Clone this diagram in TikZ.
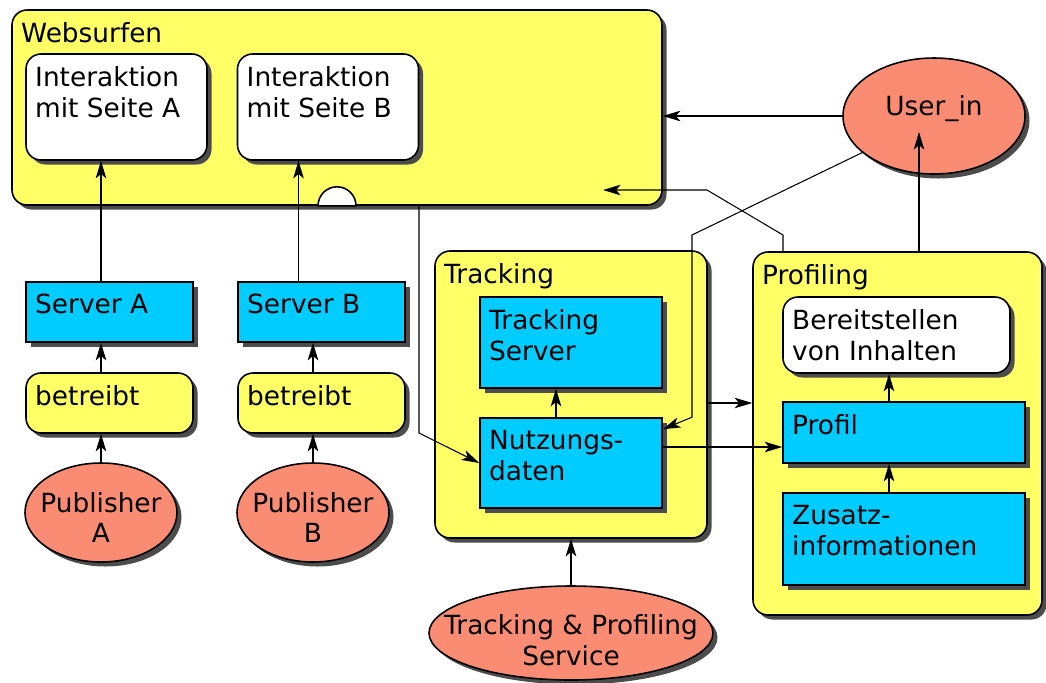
\documentclass[tikz,border=0pt]{standalone}
\usepackage{fontspec}
\setmainfont{DejaVu Sans}
\usetikzlibrary{positioning,shapes.geometric,shadows,arrows.meta}
\definecolor{gelb}{RGB}{255,255,102}
\definecolor{tuerkis}{RGB}{0,204,255}
\definecolor{lachs}{RGB}{250,140,115}
\tikzset{>={Stealth[length=10pt,width=6pt,inset=2.5pt]}}
\tikzset{
  schatten/.style={drop shadow={shadow xshift=0.09cm, shadow yshift=-0.09cm, fill=black!70, opacity=1}},
  gruppe/.style={draw, line width=0.9pt, rounded corners=0.3cm, fill=gelb, schatten},
  aktion/.style={draw, line width=0.9pt, rounded corners=0.3cm, fill=white, schatten},
  rechner/.style={draw, line width=0.9pt, fill=tuerkis, schatten},
  akteur/.style={draw, ellipse, line width=0.9pt, fill=lachs, inner sep=0pt, schatten},
  kopf/.style={label={[anchor=north west, inner xsep=0.19cm, inner ysep=0.25cm, align=left]north west:#1}},
  mitte/.style 2 args={label={[align=center, yshift=#1]center:#2}}
}

\begin{document}
\begin{tikzpicture}[font=\fontsize{15pt}{17.5pt}\selectfont, line width=0.6pt]
      \useasboundingbox (0,0) rectangle (20.92,-13.64);
      % Websurfen
      \node[gruppe, minimum width=13cm, minimum height=3.9cm, kopf=Websurfen] (web) at (6.74,-2.15) {};
      \node[aktion, minimum width=3.62cm, minimum height=2.12cm, kopf={Interaktion\\mit Seite A}] (ia) at (2.33,-2.14) {};
      \node[aktion, right of=ia, node distance=4.23cm, minimum width=3.62cm, minimum height=2.12cm, kopf={Interaktion\\mit Seite B}] (ib) {};
      \draw[line width=0.9pt, fill=white] ([xshift=-0.38cm]web.south) arc[start angle=180, end angle=0, radius=0.38cm] -- cycle;
      % Publisher
      \node[rechner, minimum width=3.34cm, minimum height=1.2cm, kopf={Server A}] (sa) at (2.19,-6.24) {};
      \node[rechner, right of=sa, node distance=4.24cm, minimum width=3.34cm, minimum height=1.2cm, kopf={Server B}] (sb) {};
      \node[gruppe, below of=sa, node distance=1.82cm, minimum width=3.34cm, minimum height=1.2cm, kopf=betreibt] (ba) {};
      \node[gruppe, below of=sb, node distance=1.82cm, minimum width=3.34cm, minimum height=1.2cm, kopf=betreibt] (bb) {};
      \node[akteur, minimum width=3.04cm, minimum height=1.98cm, mitte={-0.1cm}{Publisher\\A}] (pa) at (2.02,-10.25) {};
      \node[akteur, right of=pa, node distance=4.24cm, minimum width=3.04cm, minimum height=1.98cm, mitte={-0.1cm}{Publisher\\B}] (pb) {};
      % Tracking
      \node[gruppe, minimum width=5.44cm, minimum height=5.74cm, kopf=Tracking] (track) at (11.42,-7.89) {};
      \node[rechner, above of=track, node distance=1.04cm, minimum width=3.64cm, minimum height=1.82cm, kopf={Tracking\\Server}] (ts) {};
      \node[rechner, below of=ts, node distance=2.41cm, minimum width=3.64cm, minimum height=1.8cm, kopf={Nutzungs-\\daten}] (nd) {};
      \node[akteur, below of=track, node distance=4.77cm, minimum width=5.68cm, minimum height=1.88cm, mitte={-0.14cm}{Tracking \& Profiling\\Service}] (svc) {};
      % Profiling
      \node[gruppe, minimum width=5.78cm, minimum height=7.26cm, kopf=Profiling] (prof) at (17.95,-8.67) {};
      \node[aktion, minimum width=4.54cm, minimum height=1.52cm, kopf={Bereitstellen\\von Inhalten}] (bi) at (17.93,-6.70) {};
      \node[rechner, minimum width=4.84cm, minimum height=1.22cm, kopf=Profil] (pr) at (18.08,-8.65) {};
      \node[rechner, below of=pr, node distance=2.13cm, minimum width=4.84cm, minimum height=1.84cm, kopf={Zusatz-\\informationen}] (zi) {};
      \node[akteur, minimum width=3.64cm, minimum height=2.32cm, mitte={0.15cm}{User\_in}] (user) at (18.68,-2.32) {};
      % Verbindungen
      \draw[->] (pa.north) -- (pa.north |- ba.south);
      \draw[->] (pa.north |- ba.north) -- (pa.north |- sa.south);
      \draw[->] (pa.north |- sa.north) -- (pa.north |- ia.south);
      \draw[->] (pb.north) -- (pb.north |- bb.south);
      \draw[->] (pb.north |- bb.north) -- (pb.north |- sb.south);
      \draw[->] ([xshift=-0.46cm]sb.north) -- ([xshift=-0.46cm]sb.north |- ib.south);
      \draw[->] ([xshift=-0.3cm]nd.north) -- ([xshift=-0.3cm]ts.south);
      \draw[->] ([xshift=-0.3cm]zi.north) -- ([xshift=-0.3cm]pr.south);
      \draw[->] ([xshift=-0.3cm]pr.north) -- ([xshift=-0.3cm]pr.north |- bi.south);
      \draw[->] (track.south |- svc.north) -- (track.south);
      \coordinate (aux1) at (13.84,-4.70);
      \coordinate (aux2) at (15.66,-4.70);
      \coordinate (aux3) at (14.14,-3.80);
      \coordinate (aux4) at (12.06,-3.80);
      \coordinate (aux5) at (18.38,-2.64);
      \coordinate (aux6) at (8.38,-8.66);
      \draw[->] (user.west) -- (user.west -| web.east);
      \draw[->] (user.207) -- (aux1) -- (aux1 |- nd.north) -- ([yshift=-0.24cm]nd.north east);
      \draw[->] (aux2 |- prof.north) -- (aux2) -- (aux3) -- (aux4);
      \draw[->] (aux5 |- prof.north) -- (aux5);
      \draw[->] (aux6 |- web.south) -- (aux6) -- (nd.west);
      \draw[->] ([yshift=0.32cm]nd.east) -- ([yshift=0.32cm]nd.east -| pr.west);
      \draw[->] ([yshift=-0.17cm]track.east) -- ([yshift=-0.17cm]track.east -| prof.west);
    \end{tikzpicture}
\end{document}
